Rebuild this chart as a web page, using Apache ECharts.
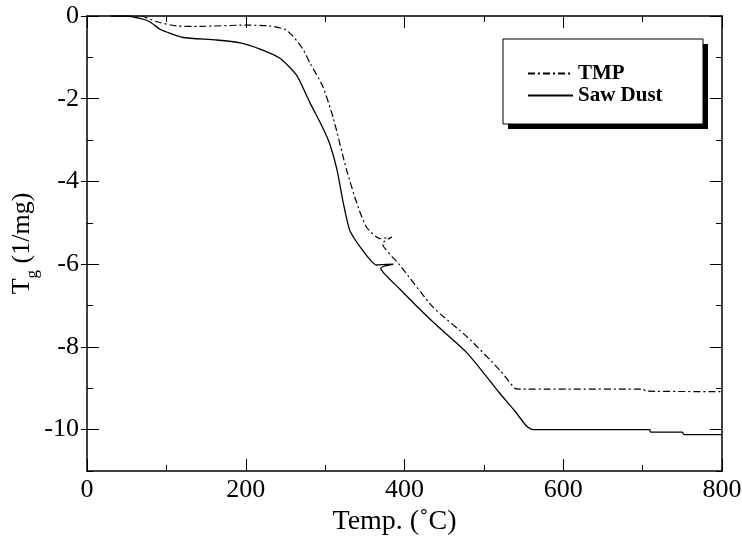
<!DOCTYPE html>
<html>
<head>
<meta charset="utf-8">
<script src="https://cdn.jsdelivr.net/npm/echarts@6/dist/echarts.min.js"></script>
<style>
  html, body { margin: 0; padding: 0; background: #fff; }
  #main { width: 742px; height: 550px; }
</style>
</head>
<body>
<div id="main"></div>
<script>
// 读图得到的数据 (温度 °C, Tg)
var tmpData = [
    [30, 0], [67, 0], [88, -0.14], [113, -0.24], [142, -0.25], [199, -0.22], [230, -0.24],
    [250, -0.33], [260, -0.5], [272, -0.8], [281, -1.14], [297, -1.7], [310, -2.45],
    [327, -3.72], [340, -4.53], [352, -5.1], [369, -5.38], [384, -5.35], [372, -5.5],
    [394, -6.02], [436, -7.04], [479, -7.76], [520, -8.56], [539, -9.0], [546, -9.02],
    [700, -9.02], [705, -9.07], [800, -9.08]
];
var sawData = [
    [30, 0], [50, 0], [67, -0.06], [79, -0.14], [92, -0.32], [105, -0.42], [121, -0.52],
    [163, -0.58], [193, -0.65], [218, -0.8], [243, -1.02], [264, -1.43], [281, -2.1],
    [297, -2.7], [306, -3.1], [315, -3.72], [323, -4.53], [331, -5.18], [344, -5.58],
    [365, -6.02], [386, -6.0], [370, -6.1], [394, -6.6], [436, -7.4], [479, -8.15],
    [520, -9.12], [539, -9.55], [554, -9.92], [562, -10.0], [709, -10.0], [710, -10.06],
    [750, -10.06], [752, -10.12], [800, -10.12]
];
var seriesNames = ['TMP', 'Saw Dust'];
var yMajor = [0, -2, -4, -6, -8, -10];
var yMinor = [-1, -3, -5, -7, -9, -11];

var serif = 'Liberation Serif';
var myChart = echarts.init(document.getElementById('main'));

// y轴: 用 customValues 画刻度
function yTicks(pos, vals, len, inside, line) {
    return {
        type: 'value',
        position: pos,
        min: -11,
        max: 0,
        axisLine: { show: line, onZero: false, lineStyle: { color: '#000', width: 1.5 } },
        axisTick: { show: true, inside: inside, length: len, customValues: vals, lineStyle: { color: '#000', width: 1 } },
        axisLabel: { show: false },
        splitLine: { show: false }
    };
}
function xTicks(pos) {
    return {
        type: 'value',
        position: pos,
        min: 0,
        max: 800,
        interval: 200,
        axisLine: { show: true, onZero: false, lineStyle: { color: '#000', width: 1.5 } },
        axisTick: { show: true, inside: true, length: 12, lineStyle: { color: '#000', width: 1 } },
        minorTick: { show: true, splitNumber: 2, length: 6, lineStyle: { color: '#000', width: 1 } },
        axisLabel: { show: false },
        splitLine: { show: false }
    };
}

var xMain = xTicks('bottom');
xMain.axisLabel = { show: true, color: '#000', fontFamily: serif, fontSize: 26, margin: 6 };
xMain.name = 'Temp. (˚C)';
xMain.nameLocation = 'middle';
xMain.nameGap = 37;
xMain.nameMoveOverlap = false;
xMain.nameTextStyle = { color: '#000', fontFamily: serif, fontSize: 28, padding: [0, 20, 0, 0] };

var yMain = yTicks('left', yMajor, 12, true, true);
yMain.axisLabel = {
    show: true, color: '#000', fontFamily: serif, fontSize: 26, margin: 8, customValues: yMajor
};
yMain.name = '{a|T}{b|g}{a| (1/mg)}';
yMain.nameLocation = 'middle';
yMain.nameRotate = 90;
yMain.nameGap = 46;
yMain.nameMoveOverlap = false;
yMain.nameTextStyle = {
    rich: {
        a: { color: '#000', fontFamily: serif, fontSize: 26, padding: [0, 0, 6, 0], verticalAlign: 'bottom' },
        b: { color: '#000', fontFamily: serif, fontSize: 17, verticalAlign: 'bottom' }
    }
};

option = {
    animation: false,
    backgroundColor: '#fff',
    grid: { left: 87, right: 20, top: 16, bottom: 79, outerBoundsMode: 'none' },
    xAxis: [xMain, xTicks('top')],
    yAxis: [
        yMain,
        yTicks('left', yMinor, 6, true, false),
        yTicks('left', yMajor, 6, false, false),
        yTicks('right', yMajor, 12, true, true),
        yTicks('right', yMinor, 6, true, false)
    ],
    legend: {
        data: seriesNames,
        orient: 'vertical',
        left: 527,
        top: 63,
        padding: 0,
        itemWidth: 45,
        itemHeight: 14,
        itemGap: 1,
        itemStyle: { opacity: 0 },
        textStyle: { color: '#000', fontFamily: serif, fontSize: 21, fontWeight: 'bold' }
    },
    graphic: [
        { type: 'rect', z: 3, shape: { x: 508, y: 44, width: 200, height: 85 }, style: { fill: '#000' } },
        { type: 'rect', z: 3, shape: { x: 503, y: 39, width: 200, height: 85 },
          style: { fill: '#fff', stroke: '#000', lineWidth: 1 } }
    ],
    series: [
        {
            name: seriesNames[0],
            type: 'line',
            symbol: 'none',
            smooth: 0.2,
            data: tmpData,
            lineStyle: { color: '#000', width: 1.2, type: [7, 3, 2, 3] },
            itemStyle: { color: '#000' }
        },
        {
            name: seriesNames[1],
            type: 'line',
            symbol: 'none',
            smooth: 0.2,
            data: sawData,
            lineStyle: { color: '#000', width: 1.3 },
            itemStyle: { color: '#000' }
        }
    ]
};

myChart.setOption(option);
</script>
</body>
</html>
